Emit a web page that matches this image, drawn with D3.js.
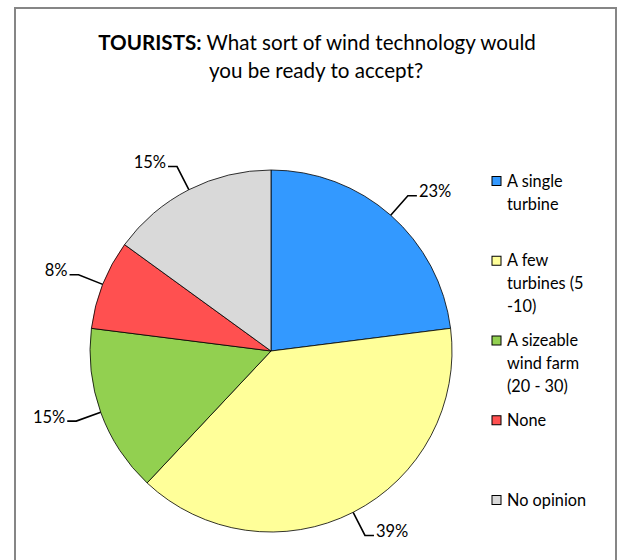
<!DOCTYPE html>
<html>
<head>
<meta charset="utf-8">
<script src="https://cdn.jsdelivr.net/npm/d3@7"></script>
<style>
  html, body { margin: 0; padding: 0; background: #fff; }
  svg { display: block; }
  text { font-family: Lato, "Open Sans", sans-serif; fill: #000; }
</style>
</head>
<body>
<svg id="chart" width="618" height="560"></svg>
<script>
// ---- data ----
const categories = ["A single turbine", "A few turbines (5 -10)", "A sizeable wind farm (20 - 30)", "None", "No opinion"];
const legendLines = [["A single", "turbine"], ["A few", "turbines (5", "-10)"], ["A sizeable", "wind farm", "(20 - 30)"], ["None"], ["No opinion"]];
const values = [23, 39, 15, 8, 15];
const valueLabels = ["23%", "39%", "15%", "8%", "15%"];
const colors = ["#3399FF", "#FFFF99", "#92D050", "#FF5050", "#D9D9D9"];
const titleBold = "TOURISTS:";
const titleRest = " What sort of wind technology would";
const titleLine2 = "you be ready to accept?";

// ---- layout ----
const W = 618, H = 560;
const cx = 271, cy = 351, R = 181;
const svg = d3.select("#chart");

// frame
svg.append("rect")
  .attr("x", 15).attr("y", 8).attr("width", 601).attr("height", 570)
  .attr("fill", "#fff").attr("stroke", "#868686").attr("stroke-width", 2);

// title
const t1 = svg.append("text").attr("x", 317).attr("y", 50)
  .attr("text-anchor", "middle").style("font-size", "20.6px");
t1.append("tspan").attr("font-weight", "bold").text(titleBold);
t1.append("tspan").text(titleRest);
svg.append("text").attr("x", 316).attr("y", 78)
  .attr("text-anchor", "middle").style("font-size", "20.6px").text(titleLine2);

// pie
const pie = d3.pie().sort(null).value(d => d);
const arcs = pie(values);
const arc = d3.arc().innerRadius(0).outerRadius(R);
const g = svg.append("g").attr("transform", `translate(${cx},${cy})`);
g.selectAll("path.slice").data(arcs).enter().append("path")
  .attr("class", "slice")
  .attr("d", arc)
  .attr("fill", (d, i) => colors[i])
  .attr("stroke", "#000").attr("stroke-width", 0.8).attr("stroke-linejoin", "round");

// labels with leader lines
const rElbow = 207, hLen = 9, gap = 2;
arcs.forEach((d, i) => {
  const a = (d.startAngle + d.endAngle) / 2;
  const sx = R * Math.sin(a), sy = -R * Math.cos(a);
  const ex = rElbow * Math.sin(a), ey = -rElbow * Math.cos(a);
  const right = Math.sin(a) >= 0;
  const hx = ex + (right ? hLen : -hLen);
  g.append("polyline")
    .attr("points", `${sx},${sy} ${ex},${ey} ${hx},${ey}`)
    .attr("fill", "none").attr("stroke", "#000").attr("stroke-width", 1.6);
  g.append("text")
    .attr("x", hx + (right ? gap : -gap))
    .attr("y", ey + 1.5)
    .attr("text-anchor", right ? "start" : "end")
    .style("font-size", "16.5px")
    .text(valueLabels[i]);
});

// legend
const legendY = d3.scalePoint().domain(categories).range([181, 500]);
const lg = svg.append("g");
categories.forEach((c, i) => {
  const y = legendY(c);
  lg.append("rect").attr("x", 492).attr("y", y - 4.5).attr("width", 9).attr("height", 9)
    .attr("fill", colors[i]).attr("stroke", "#000").attr("stroke-width", 1);
  legendLines[i].forEach((ln, j) => {
    lg.append("text").attr("x", 507).attr("y", y + 5.5 + j * 23)
      .style("font-size", "16.3px").text(ln);
  });
});
</script>
</body>
</html>
